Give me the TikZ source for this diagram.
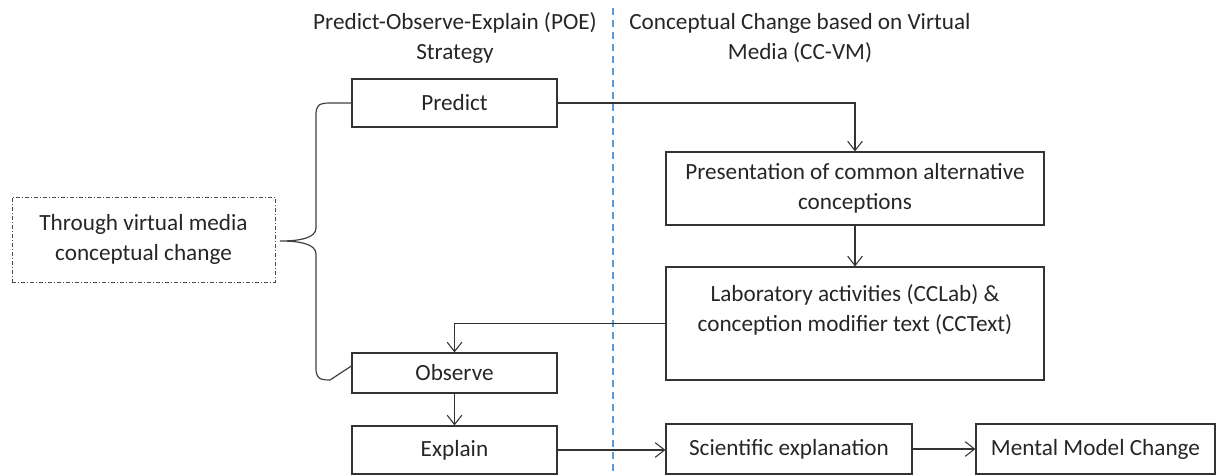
\documentclass[tikz,border=0pt]{standalone}
\usepackage{fontspec}
\setmainfont{Carlito}
\usetikzlibrary{arrows.meta}

\tikzset{
  stagebox/.style={draw=black!80, line width=0.9pt, inner sep=0.75pt, align=center, text=black!85},
  flow/.style={draw=black!80, line width=0.8pt, -{Straight Barb[length=7pt,width=11pt]}},
  brace/.style={draw=black!75, line width=0.9pt},
}

\begin{document}
\begin{tikzpicture}[x=0.75pt,y=0.75pt,yscale=-1,xscale=1, font=\fontsize{17.4}{22.5}\selectfont]
\useasboundingbox (0,0) rectangle (1217,475);

% Dashed divider
\draw [color={rgb,255:red,91;green,155;blue,213}, line width=0.8pt, dash pattern=on 5.25pt off 3.75pt] (613,8) -- (613,475);

% Headings
\node (poe) at (455,38) [align=center, text=black!85] {Predict-Observe-Explain (POE)\\Strategy};
\node (ccvm) at (800,38) [align=center, text=black!85] {Conceptual Change based on Virtual\\Media (CC-VM)};

% Left box
\node (through) at (143.5,239.5) [stagebox, draw=black!70, line width=0.6pt, dash pattern=on 3pt off 1.5pt on 0.75pt off 1.5pt, minimum width=197.25pt, minimum height=63.75pt] {Through virtual media\\conceptual change};

% POE boxes
\node (pred) at (454.5,103) [stagebox, minimum width=153.75pt, minimum height=36pt] {Predict};
\node (obs) at (454.5,373) [stagebox, minimum width=153.75pt, minimum height=30pt] {Observe};
\node (expl) at (454.5,450) [stagebox, minimum width=153.75pt, minimum height=36pt] {Explain};

% CC-VM boxes
\node (pres) at (855,188.5) [stagebox, minimum width=283.5pt, minimum height=54.75pt] {Presentation of common alternative\\conceptions};
\node (lab) at (855,323.5) [stagebox, minimum width=283.5pt, minimum height=84.75pt] {Laboratory activities (CCLab) \&\\conception modifier text (CCText)\\ \mbox{}};
\node (sci) at (789,449) [stagebox, minimum width=184.5pt, minimum height=37.5pt] {Scientific explanation};
\node (mental) at (1095.5,449) [stagebox, minimum width=179.25pt, minimum height=37.5pt] {Mental Model Change};

% Brace
\coordinate (tip) at (280,241);
\coordinate (obsend) at ([yshift=-5.25pt]obs.west);
\draw [brace] (pred.west) -- (330,103) .. controls (318,103) and (316,106) .. (316,115) -- (316,228) .. controls (316,238) and (300,241) .. (tip) .. controls (300,241) and (316,244) .. (316,254) -- (316,368) .. controls (316,377) and (318,380) .. (330,380) -- (obsend);

% Arrows
\draw [flow] (pred.east) -| (pres.north);
\draw [flow] (pres.south) -- (lab.north);
\draw [flow] (lab.west) -| (obs.north);
\draw [flow] (obs.south) -- (expl.north);
\draw [flow] (expl.east) -- (expl.east -| sci.west);
\draw [flow] (sci.east) -- (sci.east -| mental.west);

\end{tikzpicture}
\end{document}
